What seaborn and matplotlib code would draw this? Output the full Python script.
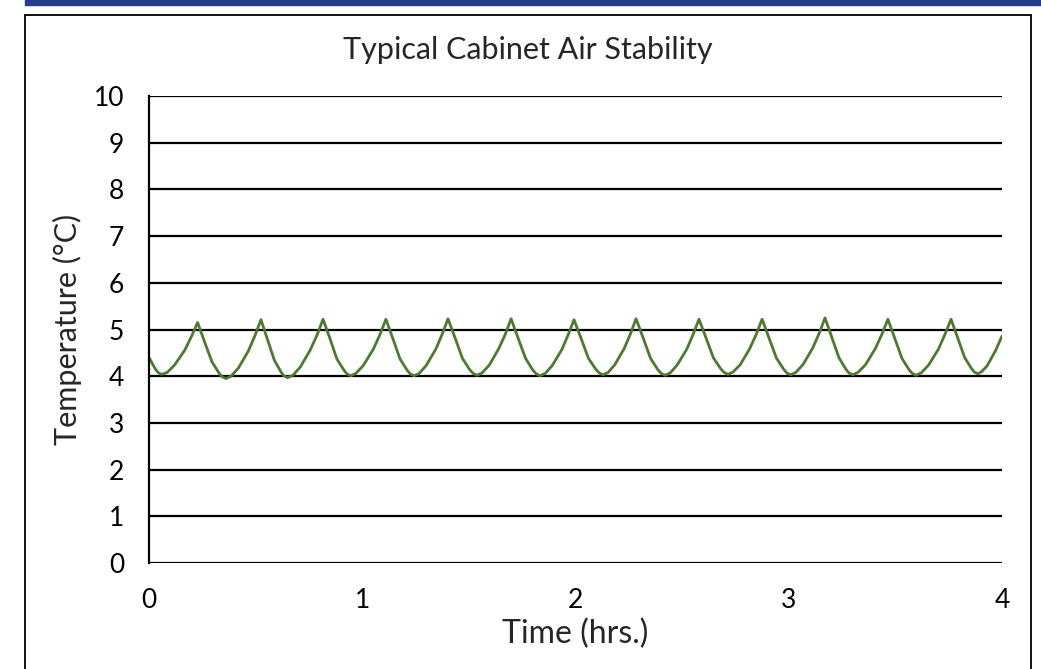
import numpy as np
import pandas as pd
import seaborn as sns
import matplotlib.pyplot as plt
from matplotlib.patches import Rectangle

# values (time in hrs, temperature in degC)
time_hrs = [0.000, 0.030, 0.045,
            0.060, 0.085, 0.120, 0.168, 0.199, 0.228, 0.261, 0.295, 0.328, 0.342,
            0.361, 0.385, 0.420, 0.466, 0.497, 0.525, 0.556, 0.588, 0.619, 0.632,
            0.650, 0.675, 0.710, 0.756, 0.788, 0.816, 0.849, 0.881, 0.914, 0.928,
            0.946, 0.970, 1.005, 1.052, 1.083, 1.111, 1.144, 1.177, 1.210, 1.225,
            1.243, 1.267, 1.300, 1.345, 1.375, 1.402, 1.436, 1.470, 1.504, 1.520,
            1.538, 1.562, 1.596, 1.640, 1.671, 1.698, 1.732, 1.766, 1.800, 1.816,
            1.834, 1.858, 1.891, 1.936, 1.966, 1.993, 2.027, 2.061, 2.095, 2.111,
            2.129, 2.153, 2.185, 2.228, 2.258, 2.284, 2.318, 2.352, 2.386, 2.402,
            2.420, 2.444, 2.477, 2.522, 2.552, 2.579, 2.613, 2.647, 2.681, 2.697,
            2.715, 2.739, 2.773, 2.817, 2.848, 2.875, 2.909, 2.942, 2.976, 2.991,
            3.009, 3.033, 3.067, 3.112, 3.143, 3.170, 3.203, 3.235, 3.268, 3.282,
            3.300, 3.324, 3.359, 3.406, 3.437, 3.465, 3.498, 3.531, 3.564, 3.579,
            3.597, 3.621, 3.656, 3.702, 3.733, 3.761, 3.793, 3.825, 3.856, 3.870,
            3.888, 3.905, 3.930, 3.970, 4.000]
temp_c = [4.40, 4.15, 4.07,
          4.04, 4.08, 4.24, 4.56, 4.85, 5.15, 4.73, 4.31, 4.07, 3.99,
          3.95, 4.00, 4.18, 4.54, 4.87, 5.21, 4.78, 4.34, 4.09, 4.01,
          3.97, 4.02, 4.20, 4.56, 4.88, 5.22, 4.80, 4.37, 4.13, 4.05,
          4.01, 4.06, 4.23, 4.58, 4.89, 5.22, 4.80, 4.37, 4.13, 4.05,
          4.01, 4.06, 4.23, 4.58, 4.90, 5.23, 4.81, 4.38, 4.14, 4.06,
          4.02, 4.07, 4.24, 4.59, 4.90, 5.23, 4.80, 4.38, 4.13, 4.05,
          4.01, 4.06, 4.23, 4.57, 4.89, 5.21, 4.80, 4.38, 4.15, 4.07,
          4.03, 4.08, 4.25, 4.59, 4.91, 5.23, 4.81, 4.38, 4.14, 4.06,
          4.02, 4.07, 4.24, 4.58, 4.90, 5.22, 4.81, 4.39, 4.16, 4.08,
          4.04, 4.09, 4.25, 4.59, 4.90, 5.22, 4.80, 4.39, 4.15, 4.07,
          4.03, 4.08, 4.25, 4.60, 4.92, 5.25, 4.82, 4.40, 4.15, 4.07,
          4.03, 4.08, 4.24, 4.59, 4.90, 5.22, 4.80, 4.38, 4.14, 4.06,
          4.02, 4.07, 4.24, 4.58, 4.90, 5.22, 4.81, 4.40, 4.17, 4.09,
          4.05, 4.10, 4.22, 4.55, 4.86]

x_ticks = [0, 1, 2, 3, 4]
y_ticks = [0, 1, 2, 3, 4, 5, 6, 7, 8, 9, 10]

df = pd.DataFrame({'time': time_hrs, 'temp': temp_c})

sns.set_style('white')
plt.rcParams['font.family'] = ['Lato', 'DejaVu Sans']

fig = plt.figure(figsize=(10.41, 6.69), dpi=100)
ax = fig.add_axes([149/1041, 1 - 563/669, (1002 - 149)/1041, (563 - 96)/669])

sns.lineplot(data=df, x='time', y='temp', ax=ax, color='#4e7a2f',
             linewidth=2.0, estimator=None, sort=False)

ax.set_xlim(0, 4)
ax.set_ylim(0, 10)
ax.set_xticks(x_ticks)
ax.set_yticks(y_ticks)
ax.tick_params(axis='both', length=0, labelsize=19, colors='black')
ax.tick_params(axis='y', pad=18)
ax.tick_params(axis='x', pad=18)

for v in y_ticks:
    ax.axhline(v, color='black', linewidth=1.6, zorder=0)

for s in ['top', 'right', 'bottom']:
    ax.spines[s].set_visible(False)
ax.spines['left'].set_color('black')
ax.spines['left'].set_linewidth(1.6)

ax.set_xlabel('Time (hrs.)', fontsize=23, labelpad=4)
ax.set_ylabel('Temperature (°C)', fontsize=22, labelpad=8)

fig.text(528/1041, 1 - 50/669, 'Typical Cabinet Air Stability',
         ha='center', va='center', fontsize=22)

# outer chart border and the blue band above it
fig.patches.append(Rectangle((25/1041, -0.05), (1031 - 25)/1041, 1.05 - 15/669,
                             transform=fig.transFigure, fill=False,
                             edgecolor='black', linewidth=1.3))
fig.patches.append(Rectangle((25/1041, 1 - 5/669), 1.0, 5/669,
                             transform=fig.transFigure, color='#233f8b'))

fig.savefig('out.png', dpi=100)
